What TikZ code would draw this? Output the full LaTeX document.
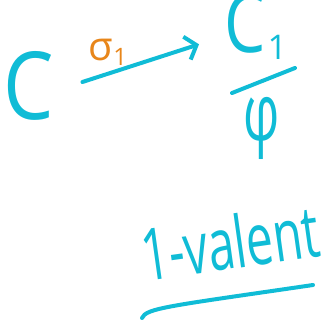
\documentclass[tikz,border=0pt]{standalone}
\usepackage{fontspec}
\setmainfont{Open Sans}
\usetikzlibrary{arrows.meta,positioning}
\definecolor{ink}{RGB}{16,188,214}
\definecolor{pen}{RGB}{232,134,26}

\begin{document}
\begin{tikzpicture}[x=1pt,y=-1pt,
  hand/.style={text=ink, inner sep=0pt},
  arr/.style={-{Straight Barb[length=10pt,width=24pt]}, ink, line width=4pt, line cap=round},
  stroke/.style={ink, line width=4pt, line cap=round}
]
\useasboundingbox (0,0) rectangle (327,324);
\node[hand, font=\fontsize{94}{94}\selectfont] (c) at (29,86) {\scalebox{0.85}[1]{C}};
\node[hand, font=\fontsize{82}{82}\selectfont, anchor=base west] (c1) at (224,52) {\scalebox{0.8}[1]{C}\hspace{2pt}{\fontsize{34}{34}\selectfont\raisebox{-8pt}{1}}};
\node[hand, font=\fontsize{72}{72}\selectfont] (phi) at (262,128) {\scalebox{0.7}[1.1]{φ}};
\node[hand, font=\fontsize{48}{48}\selectfont, rotate=8] (valent) at (230,242) {\scalebox{1}[1.5]{1-valent}};
\draw[arr] ([shift={(28,-4)}]c.east) -- ([shift={(-25,18)}]c1.west)
  node[pos=0.22, above=3pt, text=pen, font=\fontsize{40}{40}\selectfont] (sigma) {σ{\fontsize{24}{24}\selectfont\raisebox{-0.2em}{1}}};
% fraction bar under C_1
\coordinate (barl) at (232,93);
\coordinate (barr) at (295,68);
\draw[stroke] (barl) -- (barr);
% underline below 1-valent
\coordinate (ul) at (142,318);
\coordinate (ur) at (313,285);
\draw[stroke] (ul) .. controls (146,308) and (170,306) .. (ur);
\end{tikzpicture}
\end{document}
